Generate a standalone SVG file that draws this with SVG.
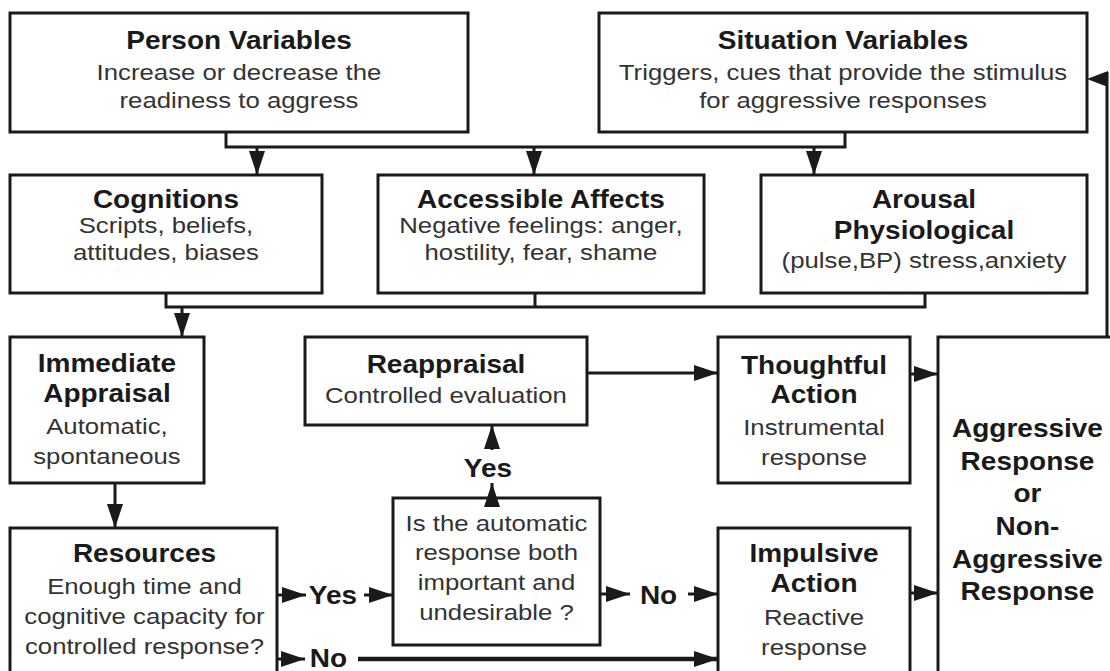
<svg xmlns="http://www.w3.org/2000/svg" width="1110" height="671" viewBox="0 0 1110 671">
<style>
.box{fill:#fff;stroke:#1a1a1a;stroke-width:3}
.t{font-family:"Liberation Sans",Arial,sans-serif;text-anchor:middle;transform:scale(1.12,1);transform-origin:0 0;transform-box:view-box}
.h{font-weight:bold;font-size:25px;fill:#1a1a1a}
.b{font-size:23px;fill:#333}
.c{fill:none;stroke:#1a1a1a;stroke-width:3}
.a{marker-end:url(#ah)}
.thick{stroke-width:4.5}
</style>
<defs>
<marker id="ah" viewBox="0 0 24 16" markerWidth="24" markerHeight="16" refX="24" refY="8" markerUnits="userSpaceOnUse" orient="auto">
<path d="M0,0 L24,8 L0,16 z" fill="#1a1a1a"/>
</marker>
</defs>
<rect width="1110" height="671" fill="#fff"/>

<g id="person">
<rect class="box" x="10" y="13" width="458" height="119"/>
<text class="t h" x="213.4" y="49">Person Variables</text>
<text class="t b" x="213.4" y="80">Increase or decrease the</text>
<text class="t b" x="213.4" y="108">readiness to aggress</text>
</g>
<g id="situation">
<rect class="box" x="599" y="13" width="488" height="119"/>
<text class="t h" x="752.7" y="49">Situation Variables</text>
<text class="t b" x="752.7" y="80">Triggers, cues that provide the stimulus</text>
<text class="t b" x="752.7" y="108">for aggressive responses</text>
</g>
<g id="cognitions">
<rect class="box" x="10" y="175" width="312" height="118"/>
<text class="t h" x="148.2" y="208">Cognitions</text>
<text class="t b" x="148.2" y="233">Scripts, beliefs,</text>
<text class="t b" x="148.2" y="260">attitudes, biases</text>
</g>
<g id="affects">
<rect class="box" x="378" y="175" width="326" height="118"/>
<text class="t h" x="483" y="208">Accessible Affects</text>
<text class="t b" x="483" y="233">Negative feelings: anger,</text>
<text class="t b" x="483" y="260">hostility, fear, shame</text>
</g>
<g id="arousal">
<rect class="box" x="761" y="175" width="326" height="118"/>
<text class="t h" x="825" y="208">Arousal</text>
<text class="t h" x="825" y="239">Physiological</text>
<text class="t b" x="825" y="268">(pulse,BP) stress,anxiety</text>
</g>
<g id="immediate">
<rect class="box" x="10" y="337" width="194" height="146"/>
<text class="t h" x="95.5" y="372">Immediate</text>
<text class="t h" x="95.5" y="402">Appraisal</text>
<text class="t b" x="95.5" y="434">Automatic,</text>
<text class="t b" x="95.5" y="464">spontaneous</text>
</g>
<g id="reappraisal">
<rect class="box" x="305" y="337" width="282" height="88"/>
<text class="t h" x="398.2" y="373">Reappraisal</text>
<text class="t b" x="398.2" y="403">Controlled evaluation</text>
</g>
<g id="thoughtful">
<rect class="box" x="718" y="337" width="192" height="146"/>
<text class="t h" x="726.8" y="374">Thoughtful</text>
<text class="t h" x="726.8" y="403">Action</text>
<text class="t b" x="726.8" y="435">Instrumental</text>
<text class="t b" x="726.8" y="465">response</text>
</g>
<g id="response">
<rect class="box" x="938" y="337" width="200" height="360"/>
<text class="t h" x="917.4" y="437">Aggressive</text>
<text class="t h" x="917.4" y="470">Response</text>
<text class="t h" x="917.4" y="502">or</text>
<text class="t h" x="917.4" y="535">Non-</text>
<text class="t h" x="917.4" y="568">Aggressive</text>
<text class="t h" x="917.4" y="600">Response</text>
</g>
<g id="resources">
<rect class="box" x="10" y="528" width="267" height="200"/>
<text class="t h" x="129" y="562">Resources</text>
<text class="t b" x="129" y="594">Enough time and</text>
<text class="t b" x="129" y="624">cognitive capacity for</text>
<text class="t b" x="129" y="654">controlled response?</text>
</g>
<g id="question">
<rect class="box" x="393" y="498" width="207" height="147"/>
<text class="t b" x="443.3" y="531">Is the automatic</text>
<text class="t b" x="443.3" y="560">response both</text>
<text class="t b" x="443.3" y="590">important and</text>
<text class="t b" x="443.3" y="620">undesirable ?</text>
</g>
<g id="impulsive">
<rect class="box" x="718" y="528" width="192" height="200"/>
<text class="t h" x="726.8" y="562">Impulsive</text>
<text class="t h" x="726.8" y="592">Action</text>
<text class="t b" x="726.8" y="625">Reactive</text>
<text class="t b" x="726.8" y="655">response</text>
</g>

<g id="connectors">
<path class="c" d="M226,132 V147 H845 V132"/>
<path class="c a" d="M257,147 V175"/>
<path class="c a" d="M534,147 V175"/>
<path class="c a" d="M814,147 V175"/>
<path class="c" d="M166,293 V307 H925 V293"/>
<path class="c" d="M535,293 V307"/>
<path class="c a" d="M182,307 V337"/>
<path class="c a" d="M115,483 V528"/>
<path class="c a" d="M587,373 H718"/>
<path class="c a" d="M492,450 V425"/>
<path class="c a" d="M492,498 V483"/>
<path class="c a" d="M277,595 H306"/>
<path class="c a" d="M364,595 H393"/>
<path class="c a" d="M277,659 H305"/>
<path class="c thick a" d="M358,659 H718"/>
<path class="c a" d="M600,594 H630"/>
<path class="c a" d="M688,594 H718"/>
<path class="c a" d="M910,374 H938"/>
<path class="c a" d="M910,593 H938"/>
<path class="c" d="M1107,337 V72"/>
<path d="M1087,79 L1108,71 L1108,87 z" fill="#1a1a1a"/>
<text class="t h" x="297.3" y="604">Yes</text>
<text class="t h" x="293.3" y="667">No</text>
<text class="t h" x="435.7" y="477">Yes</text>
<text class="t h" x="588" y="604">No</text>
</g>
</svg>
